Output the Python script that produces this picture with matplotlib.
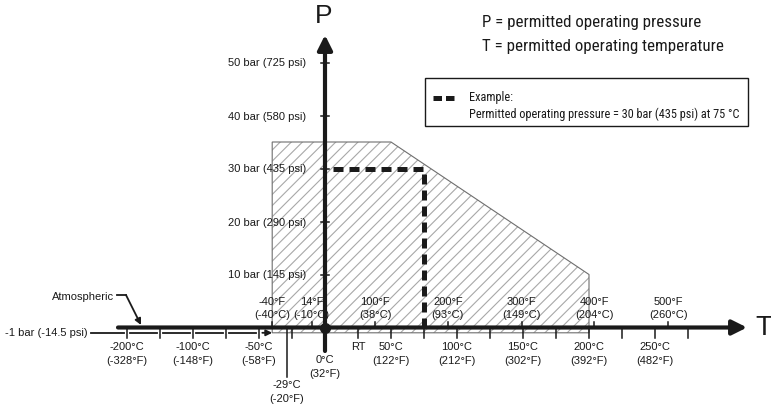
import matplotlib
matplotlib.use("Agg")
import matplotlib.pyplot as plt
from matplotlib.patches import Polygon, Rectangle

plt.rcParams['font.family'] = ['Liberation Sans', 'DejaVu Sans']
plt.rcParams['hatch.linewidth'] = 0.8
narrow = ['Roboto Condensed', 'Liberation Sans Narrow', 'Roboto', 'DejaVu Sans']

# permitted region (temperature in degC, pressure in bar)
region_t = [-40, -40, 50, 200, 200]
region_p = [-1, 35, 35, 10, -1]

# example operating point
ex_t = 75
ex_p = 30

# pressure ticks
p_ticks = [10, 20, 30, 40, 50]
p_labels = ['10 bar (145 psi)', '20 bar (290 psi)', '30 bar (435 psi)',
            '40 bar (580 psi)', '50 bar (725 psi)']

# temperature ticks below the axis
t_ticks = [-200, -150, -100, -75, -50, -25, 0, 25, 50, 75, 100, 125, 150, 175,
           200, 225, 250, 275]
c_labels_t = [-200, -100, -50, 25, 50, 100, 150, 200, 250]
c_labels = [('-200°C', '(-328°F)'), ('-100°C', '(-148°F)'), ('-50°C', '(-58°F)'),
            ('RT', ''), ('50°C', '(122°F)'), ('100°C', '(212°F)'),
            ('150°C', '(302°F)'), ('200°C', '(392°F)'), ('250°C', '(482°F)')]

# fahrenheit ticks above the axis
f_ticks = [-40, -10, 38, 93, 149, 204, 260]
f_labels = [('-40°F', '(-40°C)'), ('14°F', '(-10°C)'), ('100°F', '(38°C)'),
            ('200°F', '(93°C)'), ('300°F', '(149°C)'), ('400°F', '(204°C)'),
            ('500°F', '(260°C)')]

# scale: 1.32 px per degC, 5.3 px per bar, origin at pixel (325, 328.5)
W, H = 771, 406
sx, sy = 1.32, 5.3
ox, oy = 325, 328.5
ink = '#1a1a1a'


def pos(t):
    # below -100 degC the axis is compressed
    if t < -100:
        return -100 + (t + 100) * 0.5
    return t


def px(x, y):
    # pixel -> data, only used for placing labels and decorations
    return (x - ox) / sx, (oy - y) / sy


fig = plt.figure(figsize=(W / 100, H / 100), dpi=100)
ax = fig.add_axes([0, 0, 1, 1])
ax.set_xlim(-ox / sx, (W - ox) / sx)
ax.set_ylim(-(H - oy) / sy, oy / sy)
ax.axis('off')

# hatched region
pts = [(pos(t), p) for t, p in zip(region_t, region_p)]
ax.add_patch(Polygon(pts, closed=True, facecolor='none', edgecolor='#a8a8a8',
                     hatch='///', lw=0, zorder=1))
ax.add_patch(Polygon(pts, closed=True, facecolor='none', edgecolor='#6e6e6e',
                     lw=0.8, zorder=2))

# -1 bar line, broken at the ticks, ending in an arrow at the region
x0 = px(91, 0)[0]
breaks = [pos(t) for t in t_ticks if pos(t) < region_t[0]]
gap = 2.5
segs = [x0] + breaks
for a, b in zip(segs[:-1], segs[1:]):
    ax.plot([a + (gap if a != x0 else 0), b - gap], [-1, -1], color=ink, lw=1.3, zorder=3)
ax.annotate('', xy=(region_t[0], -1), xytext=(breaks[-1] + gap, -1),
            arrowprops=dict(arrowstyle='-|>', color=ink, lw=1.3,
                            mutation_scale=9, shrinkA=0, shrinkB=0), zorder=3)

# main axes
ax.annotate('', xy=(px(747, 0)[0], 0), xytext=(px(118, 0)[0], 0),
            arrowprops=dict(arrowstyle='-|>', color=ink, lw=3,
                            mutation_scale=22, shrinkA=0, shrinkB=0), zorder=5)
ax.annotate('', xy=(0, px(0, 36)[1]), xytext=(0, px(0, 352)[1]),
            arrowprops=dict(arrowstyle='-|>', color=ink, lw=3,
                            mutation_scale=22, shrinkA=0, shrinkB=0), zorder=5)
ax.plot([0], [0], 'o', color=ink, ms=7, zorder=6)

# ticks below the axis
for t in t_ticks:
    ax.plot([pos(t), pos(t)], [0, -1.9], color=ink, lw=1.1, zorder=4)
for t, (l1, l2) in zip(c_labels_t, c_labels):
    ax.text(pos(t), -3.5, l1, ha='center', va='center', fontsize=8, color=ink)
    ax.text(pos(t), -6.1, l2, ha='center', va='center', fontsize=8, color=ink)
ax.text(0, -5.9, '0°C', ha='center', va='center', fontsize=8, color=ink)
ax.text(0, -8.6, '(32°F)', ha='center', va='center', fontsize=8, color=ink)

# -29 degC marker
ax.plot([-29, -29], [0, -9.4], color=ink, lw=1.1, zorder=4)
ax.text(-29, -10.7, '-29°C', ha='center', va='center', fontsize=8, color=ink)
ax.text(-29, -13.3, '(-20°F)', ha='center', va='center', fontsize=8, color=ink)

# fahrenheit ticks above
for t, (l1, l2) in zip(f_ticks, f_labels):
    ax.plot([t, t], [0, 1.1], color=ink, lw=1.1, zorder=4)
    ax.text(t, 5.0, l1, ha='center', va='center', fontsize=8, color=ink)
    ax.text(t, 2.55, l2, ha='center', va='center', fontsize=8, color=ink)

# pressure ticks
for p, lab in zip(p_ticks, p_labels):
    ax.plot([-3, 3], [p, p], color=ink, lw=1.1, zorder=4)
    ax.text(-14.4, p, lab, ha='right', va='center', fontsize=8, color=ink)

ax.text(*px(88, 333), '-1 bar (-14.5 psi)', ha='right', va='center', fontsize=8,
        color=ink)

# atmospheric pointer
ax.text(*px(114, 297), 'Atmospheric', ha='right', va='center', fontsize=8,
        color=ink)
ax.plot(*zip(px(117, 296), px(126, 296)), color=ink, lw=1.3)
ax.annotate('', xy=px(141, 326), xytext=px(126, 296),
            arrowprops=dict(arrowstyle='-|>', color=ink, lw=1.3,
                            mutation_scale=9, shrinkA=0, shrinkB=0))

# example point
ax.plot([px(333, 0)[0], ex_t, ex_t], [ex_p, ex_p, 0], color=ink, lw=3.6,
        ls=(0, (2.0, 1.2)), solid_capstyle='butt', zorder=4)

# axis names
ax.text(*px(324, 16), 'P', ha='center', va='center', fontsize=19, color=ink)
ax.text(*px(764, 328), 'T', ha='center', va='center', fontsize=20, color=ink)

# description
ax.text(*px(482, 22), 'P = permitted operating pressure', ha='left', va='center',
        fontsize=12.2, family=narrow, color=ink)
ax.text(*px(482, 46), 'T = permitted operating temperature', ha='left', va='center',
        fontsize=12.2, family=narrow, color=ink)

# legend box
bx0, by0 = px(425, 127)
bx1, by1 = px(748, 79)
ax.add_patch(Rectangle((bx0, by0), bx1 - bx0, by1 - by0, facecolor='white',
                       edgecolor=ink, lw=1.0, zorder=3))
ax.plot(*zip(px(433, 99), px(455, 99)), color=ink, lw=3.6,
        ls=(0, (1.7, 0.8)), solid_capstyle='butt', zorder=4)
ax.text(*px(469, 98), 'Example:', ha='left', va='center', fontsize=8.8,
        family=narrow, color=ink, zorder=4)
ax.text(*px(469, 114), 'Permitted operating pressure = 30 bar (435 psi) at 75 °C',
        ha='left', va='center', fontsize=8.8, family=narrow, color=ink, zorder=4)

fig.savefig('out.png', dpi=100)
